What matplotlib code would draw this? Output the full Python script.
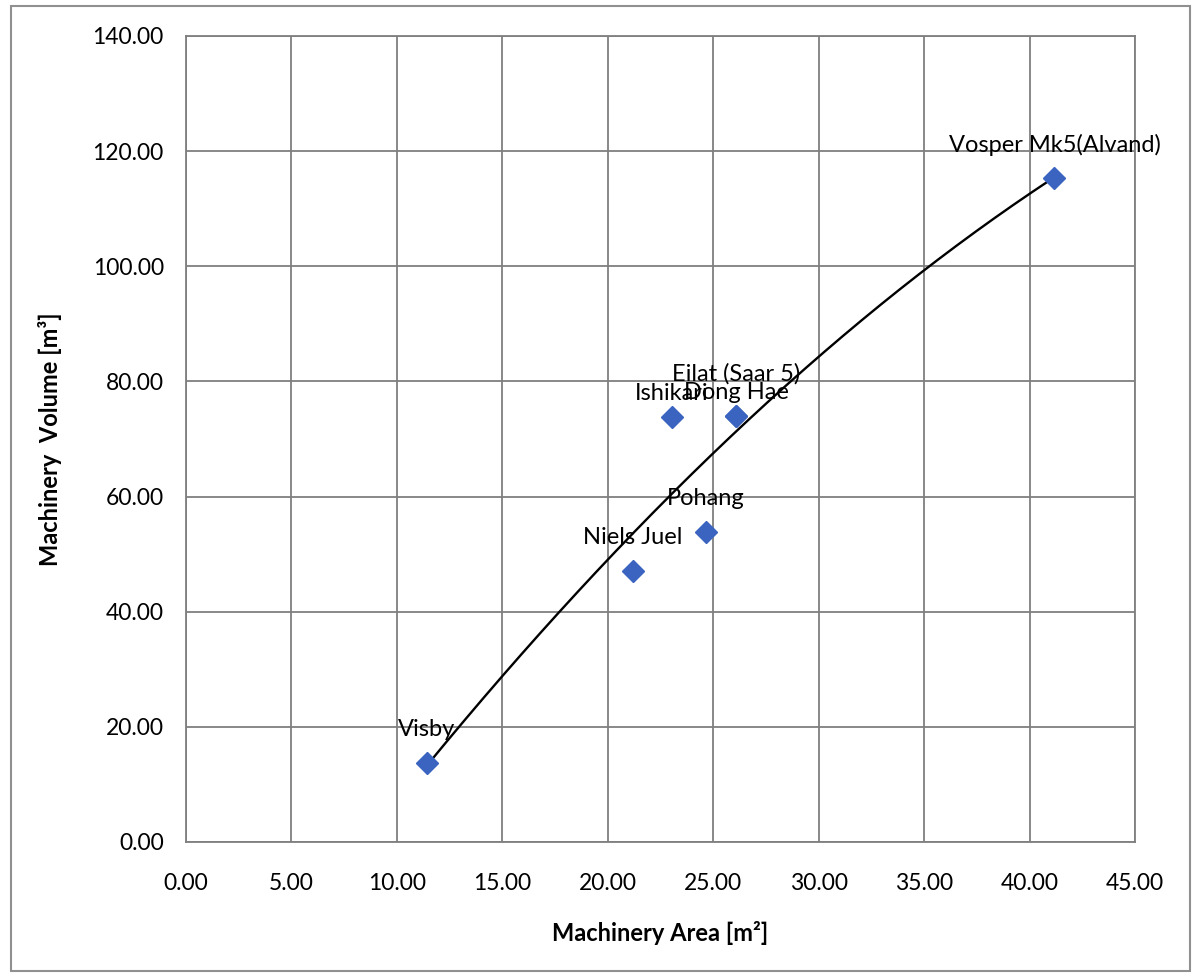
import numpy as np
import matplotlib.pyplot as plt
from matplotlib.patches import Rectangle

plt.rcParams['font.family'] = ['Lato', 'DejaVu Sans']

names = ['Visby', 'Niels Juel', 'Pohang', 'Ishikari', 'Dong Hae', 'Eilat (Saar 5)', 'Vosper Mk5(Alvand)']
area = [11.42, 21.18, 24.64, 23.03, 26.10, 26.10, 41.18]
volume = [13.7, 47.1, 53.8, 73.8, 74.0, 74.0, 115.3]

fig = plt.figure(figsize=(11.96, 9.77), dpi=100)
ax = fig.add_axes([0.1555, 0.1382, 0.7935, 0.825])

ax.plot(area, volume, 'D', color='#3a64c0', markersize=11, zorder=3)

# polynomial trendline (order 2), like excel
coef = np.polyfit(area, volume, 2)
xs = np.linspace(min(area), max(area), 200)
ax.plot(xs, np.polyval(coef, xs), color='black', lw=1.7, zorder=2)

offsets = {'Eilat (Saar 5)': 30, 'Dong Hae': 17, 'Ishikari': 17}
for n, x, y in zip(names, area, volume):
    dy = offsets.get(n, 24)
    ax.annotate(n, (x, y), xytext=(0, dy), textcoords='offset points',
                ha='center', va='center', fontsize=17)

ax.set_xlim(0, 45)
ax.set_ylim(0, 140)
ax.set_xticks(np.arange(0, 46, 5))
ax.set_yticks(np.arange(0, 141, 20))
ax.set_xticklabels(['%.2f' % v for v in np.arange(0, 46, 5)])
ax.set_yticklabels(['%.2f' % v for v in np.arange(0, 141, 20)])
ax.tick_params(length=0, labelsize=16.5)
ax.tick_params(axis='x', pad=22)
ax.tick_params(axis='y', pad=16)
ax.grid(True, color='#7f7f7f', lw=1.3)
for s in ax.spines.values():
    s.set_color('#7f7f7f')
    s.set_linewidth(1.3)

ax.set_xlabel('Machinery Area [m²]', fontsize=17, fontweight='bold', labelpad=20)
ax.set_ylabel('Machinery  Volume [m³]', fontsize=17, fontweight='bold', labelpad=22)

fig.patches.append(Rectangle((0.009, 0.006), 0.986, 0.988, transform=fig.transFigure,
                             fill=False, edgecolor='#909090', lw=1.5))

fig.savefig('out.png', dpi=100)
